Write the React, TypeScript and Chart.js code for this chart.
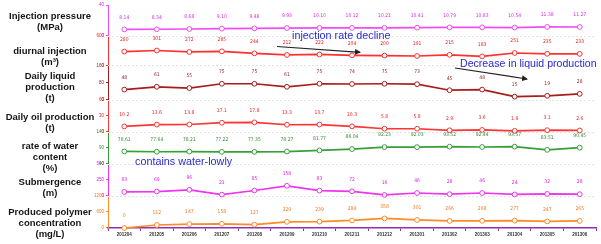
import React, { useEffect, useRef } from "react";
import { Chart, registerables } from "chart.js";

Chart.register(...registerables);

const months = [
  "201204", "201205", "201206", "201207", "201208", "201209", "201210", "201211",
  "201212", "201301", "201302", "201303", "201304", "201305", "201306",
];
const injectionPressure = [8.14, 8.34, 8.68, 9.1, 9.48, 9.93, 10.1, 10.12, 10.21, 10.41, 10.79, 10.83, 10.54, 11.38, 11.27];
const diurnalInjection = [280, 301, 272, 285, 244, 212, 222, 204, 200, 191, 215, 183, 251, 235, 233];
const dailyLiquid = [48, 61, 55, 75, 75, 61, 75, 74, 75, 73, 45, 48, 15, 19, 28];
const dailyOil = [10.2, 13.6, 13.8, 17.1, 17.8, 13.3, 13.7, 10.3, 5.8, 5.8, 2.9, 3.6, 1.9, 3.1, 2.6];
const waterCut = [78.61, 77.64, 78.21, 77.22, 77.35, 78.27, 81.77, 86.04, 92.23, 92.03, 93.52, 92.44, 93.57, 83.51, 90.45];
const submergence = [63, 69, 96, 21, 85, 158, 83, 72, 16, 46, 28, 46, 24, 32, 28];
const polymer = [0, 112, 147, 158, 127, 229, 239, 284, 358, 301, 266, 268, 277, 247, 265];

const rowTitles = [
  ["Injection pressure", "(MPa)"],
  ["diurnal injection", "(m³)"],
  ["Daily liquid", "production", "(t)"],
  ["Daily oil production", "(t)"],
  ["rate of water", "content", "(%)"],
  ["Submergence", "(m)"],
  ["Produced polymer", "concentration", "(mg/L)"],
];

type Series = {
  id: string;
  data: number[];
  color: string;
  labelColor: string;
  decimals: number;
  min: number;
  max: number;
  weight: number;
};

const series: Series[] = [
  { id: "yPress", data: injectionPressure, color: "#f04cf0", labelColor: "#e02ae0", decimals: 2, min: 0, max: 40, weight: 31 },
  { id: "yInj", data: diurnalInjection, color: "#ff3030", labelColor: "#e82020", decimals: 0, min: 0, max: 600, weight: 30.2 },
  { id: "yLiq", data: dailyLiquid, color: "#a81c1c", labelColor: "#8a1e1e", decimals: 0, min: 0, max: 160, weight: 34.8 },
  { id: "yOil", data: dailyOil, color: "#ff3434", labelColor: "#e82020", decimals: 1, min: 0, max: 60, weight: 32.3 },
  { id: "yWat", data: waterCut, color: "#36a036", labelColor: "#2e8a2e", decimals: 2, min: 40, max: 140, weight: 32.3 },
  { id: "ySub", data: submergence, color: "#f034f0", labelColor: "#e020e0", decimals: 0, min: 0, max: 500, weight: 32.6 },
  { id: "yPoly", data: polymer, color: "#ff8c28", labelColor: "#f07818", decimals: 0, min: 0, max: 1200, weight: 32.4 },
];

const titleTops = [15, 50, 75.6, 116.7, 145, 181, 211];

export default function App() {
  const ref = useRef<HTMLCanvasElement | null>(null);

  useEffect(() => {
    const canvas = ref.current;
    if (!canvas) return;

    const scales: any = {
      x: {
        type: "category",
        labels: months,
        offset: true,
        position: "bottom",
        grid: { display: true, drawOnChartArea: false, color: "#9030b0", tickLength: 3, offset: true },
        border: { color: "#9030b0", width: 1.5 },
        ticks: {
          color: "#333",
          font: { size: 4.5, weight: "bold", family: "'Liberation Sans', Arial, sans-serif" },
          padding: 1,
          maxRotation: 0,
          autoSkip: false,
        },
        afterFit: (s: any) => {
          s.height = 16;
        },
      },
    };
    // left boxes are laid out in reverse order of creation: add bottom panel first
    [...series].reverse().forEach((s) => {
      scales[s.id] = {
        type: "linear",
        position: "left",
        stack: "panels",
        stackWeight: s.weight,
        min: s.min,
        max: s.max,
        ticks: {
          stepSize: (s.max - s.min) / 2,
          color: s.labelColor,
          font: { size: 4.5, family: "'Liberation Sans', Arial, sans-serif" },
          padding: 2,
          callback: (v: any) => String(v),
        },
        grid: { drawOnChartArea: false, color: s.color, tickLength: 2 },
        border: { color: s.color, width: 1 },
        afterFit: (sc: any) => {
          sc.width = 16;
        },
      };
    });

    const valueLabels = {
      id: "valueLabels",
      afterDatasetsDraw(chart: any) {
        const ctx = chart.ctx;
        ctx.save();
        ctx.textAlign = "center";
        ctx.textBaseline = "middle";
        ctx.font = "5px 'Liberation Sans Narrow', 'DejaVu Sans Condensed', Arial, sans-serif";
        chart.data.datasets.forEach((ds: any, i: number) => {
          const meta = chart.getDatasetMeta(i);
          ctx.fillStyle = ds.labelColor;
          meta.data.forEach((pt: any, j: number) => {
            ctx.fillText(Number(ds.data[j]).toFixed(ds.decimals), pt.x, pt.y - 12);
          });
        });
        ctx.restore();
      },
    };

    const separators = {
      id: "separators",
      beforeDatasetsDraw(chart: any) {
        const ctx = chart.ctx;
        const area = chart.chartArea;
        ctx.save();
        ctx.strokeStyle = "#e2e2e2";
        ctx.lineWidth = 1;
        ctx.setLineDash([2, 2]);
        series.slice(0, -1).forEach((s) => {
          const sc = chart.scales[s.id];
          const y = Math.round(sc.bottom) + 0.5;
          ctx.beginPath();
          ctx.moveTo(area.left, y);
          ctx.lineTo(area.right, y);
          ctx.stroke();
        });
        ctx.restore();
      },
    };

    const chart = new Chart(canvas, {
      type: "line",
      data: {
        labels: months,
        datasets: series.map((s) => ({
          label: s.id,
          data: s.data,
          yAxisID: s.id,
          borderColor: s.color,
          backgroundColor: "#ffffff",
          pointBackgroundColor: "#ffffff",
          pointBorderColor: s.color,
          pointBorderWidth: 1,
          pointRadius: 2.4,
          borderWidth: 1.7,
          tension: 0,
          clip: false,
          labelColor: s.labelColor,
          decimals: s.decimals,
        })) as any,
      },
      options: {
        responsive: false,
        animation: false,
        layout: { padding: { left: 92, right: 1, top: 2, bottom: 0 } },
        plugins: { legend: { display: false }, tooltip: { enabled: false } },
        scales,
      },
      plugins: [separators, valueLabels],
    });
    return () => chart.destroy();
  }, []);

  const blue = "#2a2ad6";
  return (
    <div
      style={{
        position: "absolute",
        left: 0,
        top: 0,
        width: 601,
        height: 244,
        background: "#fff",
        overflow: "hidden",
      }}
    >
      <canvas ref={ref} width={601} height={244} style={{ position: "absolute", left: 0, top: 0 }} />
      {rowTitles.map((lines, i) => (
        <div
          key={i}
          style={{
            position: "absolute",
            left: 0,
            width: 100,
            top: titleTops[i] - 5.5,
            textAlign: "center",
            fontFamily: "'Liberation Sans', Arial, sans-serif",
            fontWeight: "bold",
            fontSize: 9.5,
            lineHeight: "11px",
            color: "#151515",
            whiteSpace: "nowrap",
          }}
        >
          {lines.map((l, k) => (
            <div key={k}>{l}</div>
          ))}
        </div>
      ))}
      <div style={{ position: "absolute", left: 292, top: 28.5, fontFamily: "'Liberation Sans', Arial, sans-serif", fontSize: 10.8, lineHeight: "13px", color: blue, whiteSpace: "nowrap" }}>
        injection rate decline
      </div>
      <div style={{ position: "absolute", left: 460, top: 57, fontFamily: "'Liberation Sans', Arial, sans-serif", fontSize: 10.6, lineHeight: "13px", color: blue, whiteSpace: "nowrap" }}>
        Decrease in liquid production
      </div>
      <div style={{ position: "absolute", left: 135, top: 154.5, fontFamily: "'Liberation Sans', Arial, sans-serif", fontSize: 10.8, lineHeight: "13px", color: blue, whiteSpace: "nowrap" }}>
        contains water-lowly
      </div>
      <svg width={601} height={244} style={{ position: "absolute", left: 0, top: 0, pointerEvents: "none" }}>
        <defs>
          <marker id="ah" markerWidth="6" markerHeight="6" refX="5" refY="3" orient="auto" markerUnits="userSpaceOnUse">
            <path d="M0,0 L6,3 L0,6 Z" fill="#222" />
          </marker>
        </defs>
        <line x1={277} y1={46.5} x2={360} y2={52.3} stroke="#222" strokeWidth={1.2} markerEnd="url(#ah)" />
        <line x1={455} y1={68} x2={527} y2={79} stroke="#222" strokeWidth={1.2} markerEnd="url(#ah)" />
      </svg>
    </div>
  );
}
